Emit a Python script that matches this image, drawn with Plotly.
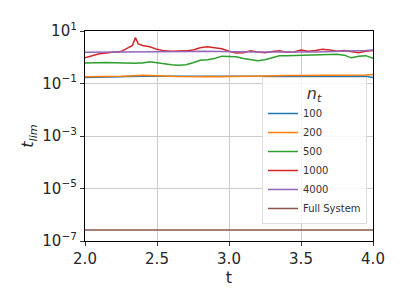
import plotly.graph_objects as go

t = [2.00, 2.05, 2.10, 2.15, 2.20, 2.25, 2.30, 2.33, 2.35, 2.37, 2.40, 2.45, 2.50,
     2.55, 2.60, 2.65, 2.70, 2.75, 2.80, 2.85, 2.90, 2.95, 3.00, 3.05, 3.10,
     3.15, 3.20, 3.25, 3.30, 3.35, 3.40, 3.45, 3.50, 3.55, 3.60, 3.65, 3.70,
     3.75, 3.80, 3.85, 3.90, 3.95, 4.00]

nt_100 = [0.17, 0.17, 0.175, 0.17, 0.18, 0.18, 0.185, 0.19, 0.19, 0.19, 0.19, 0.19, 0.19,
          0.195, 0.2, 0.2, 0.2, 0.2, 0.2, 0.2, 0.2, 0.2, 0.2, 0.2, 0.2,
          0.195, 0.19, 0.19, 0.19, 0.19, 0.19, 0.19, 0.19, 0.19, 0.19, 0.19, 0.19,
          0.19, 0.19, 0.19, 0.19, 0.19, 0.17]
nt_200 = [0.18, 0.18, 0.18, 0.185, 0.19, 0.19, 0.195, 0.2, 0.2, 0.2, 0.205, 0.2, 0.2,
          0.195, 0.19, 0.185, 0.18, 0.18, 0.18, 0.185, 0.18, 0.18, 0.185, 0.19, 0.19,
          0.19, 0.19, 0.195, 0.2, 0.2, 0.2, 0.2, 0.2, 0.205, 0.21, 0.21, 0.21,
          0.205, 0.2, 0.2, 0.2, 0.21, 0.22]
nt_500 = [0.6, 0.62, 0.65, 0.63, 0.62, 0.6, 0.58, 0.58, 0.59, 0.6, 0.6, 0.68, 0.62,
          0.55, 0.52, 0.5, 0.52, 0.62, 0.77, 0.8, 0.9, 1.1, 1.1, 1.05, 0.9,
          0.8, 0.73, 0.8, 0.95, 1.15, 1.15, 1.18, 1.19, 1.2, 1.22, 1.25, 1.3,
          1.3, 1.2, 0.95, 1.1, 1.15, 0.92]
nt_1000 = [0.95, 1.1, 1.35, 1.45, 1.6, 1.65, 2.4, 2.8, 5.6, 3.2, 2.8, 2.5, 2.0,
           1.75, 1.7, 1.7, 1.75, 1.9, 2.3, 2.5, 2.3, 2.1, 1.7, 1.45, 1.5,
           1.75, 1.6, 1.5, 1.65, 1.75, 1.55, 1.6, 1.9, 1.7, 1.8, 2.0, 1.9,
           1.7, 1.8, 1.6, 1.5, 1.7, 1.8]
nt_4000 = [1.55, 1.55, 1.55, 1.58, 1.6, 1.6, 1.6, 1.6, 1.6, 1.6, 1.6, 1.6, 1.62,
           1.62, 1.6, 1.6, 1.62, 1.65, 1.7, 1.7, 1.68, 1.65, 1.6, 1.6, 1.6,
           1.6, 1.6, 1.58, 1.6, 1.62, 1.6, 1.6, 1.62, 1.6, 1.6, 1.62, 1.6,
           1.65, 1.7, 1.7, 1.75, 1.8, 1.9]
full_system = [2.6e-7] * len(t)

series = [("100", nt_100, "#1f77b4"), ("200", nt_200, "#ff7f0e"),
          ("500", nt_500, "#2ca02c"), ("1000", nt_1000, "#d62728"),
          ("4000", nt_4000, "#9467bd"), ("Full System", full_system, "#8c564b")]

ytickvals = [1e-7, 1e-5, 1e-3, 1e-1, 1e1]
yticktext = ["10<sup>\u22127</sup>", "10<sup>\u22125</sup>", "10<sup>\u22123</sup>",
             "10<sup>\u22121</sup>", "10<sup>1</sup>"]
xtickvals = [2.0, 2.5, 3.0, 3.5, 4.0]
xticktext = ["2.0", "2.5", "3.0", "3.5", "4.0"]

fig = go.Figure()
for name, vals, col in series:
    fig.add_trace(go.Scatter(x=t, y=vals, mode="lines", name=name,
                             line=dict(color=col, width=1.5)))

fig.update_layout(
    width=399, height=297,
    margin=dict(l=77, r=34, t=19, b=64),
    paper_bgcolor="white", plot_bgcolor="white",
    font=dict(family="DejaVu Sans", size=15, color="#262626"),
    legend=dict(
        x=0.979, y=0.78, xanchor="right", yanchor="top",
        bgcolor="rgba(255,255,255,0.8)", bordercolor="#dddddd", borderwidth=1,
        font=dict(size=10, color="#333333"),
        title=dict(text="<i>n<sub>t</sub></i>", font=dict(size=16), side="top center"),
        tracegroupgap=0, itemwidth=30,
    ),
    xaxis=dict(
        range=[2.0, 4.0], tickvals=xtickvals, ticktext=xticktext,
        showgrid=True, gridcolor="#cccccc", gridwidth=1,
        showline=True, linecolor="black", linewidth=1.2, mirror=True,
        ticks="outside", ticklen=4, tickcolor="#333333",
        title=dict(text="t", standoff=2, font=dict(size=16)),
        zeroline=False,
    ),
    yaxis=dict(
        type="log", range=[-7, 1], tickvals=ytickvals, ticktext=yticktext,
        showgrid=True, gridcolor="#cccccc", gridwidth=1,
        showline=True, linecolor="black", linewidth=1.2, mirror=True,
        ticks="outside", ticklen=4, tickcolor="#333333",
        title=dict(text="<i>t<sub>lim</sub></i>", standoff=4, font=dict(size=16)),
        zeroline=False,
    ),
)

fig.write_html("out.html")
